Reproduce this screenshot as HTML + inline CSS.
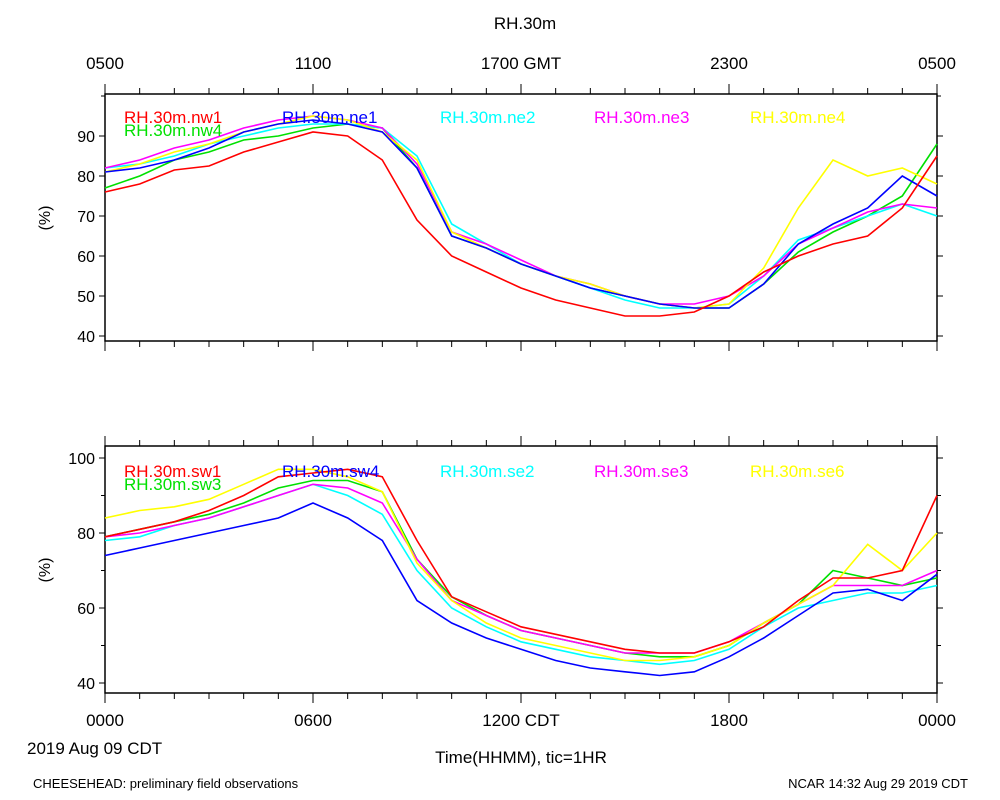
<!DOCTYPE html>
<html><head><meta charset="utf-8"><style>
body{margin:0;background:#fff}
svg{display:block;font-family:"Liberation Sans",sans-serif}
</style></head><body>
<svg id="c" width="1000" height="800"></svg>
<script>
const hours=[0,1,2,3,4,5,6,7,8,9,10,11,12,13,14,15,16,17,18,19,20,21,22,23,24];
const topXLabels=["0500","1100","1700 GMT","2300","0500"];
const botXLabels=["0000","0600","1200 CDT","1800","0000"];
const topYTicks=[40,50,60,70,80,90];
const botYTicks=[40,60,80,100];
const nw1=[76,78,81.5,82.5,86,88.5,91,90,84,69,60,56,52,49,47,45,45,46,50,56,60,63,65,72,85];
const nw4=[77,80,84,86,89,90,92,93,92,82,65,62,58,55,52,50,48,47,47,53,61,66,70,75,88];
const ne1=[81,82,84,87,91,93,94,93,91,82,65,62,58,55,52,50,48,47,47,53,63,68,72,80,75];
const ne2=[82,83,85,88,90,92,93,93,92,85,68,63,58,55,52,49,47,47,48,55,64,67,70,73,70];
const ne3=[82,84,87,89,92,94,95,94,92,83,66,63,59,55,53,50,48,48,50,55,63,67,71,73,72];
const ne4=[81,83,86,88,91,93,95,94,91,84,66,62,58,55,53,50,48,47,48,57,72,84,80,82,78];
const sw1=[79,81,83,86,90,95,96,97,95,78,63,59,55,53,51,49,48,48,51,55,62,68,68,70,90];
const sw3=[79,81,83,85,88,92,94,94,91,73,63,58,54,52,50,48,47,47,50,56,61,70,68,66,68];
const sw4=[74,76,78,80,82,84,88,84,78,62,56,52,49,46,44,43,42,43,47,52,58,64,65,62,69];
const se2=[78,79,82,84,87,90,93,90,85,70,60,55,51,49,47,46,45,46,49,55,60,62,64,64,66];
const se3=[79,80,82,84,87,90,93,92,88,73,62,58,54,52,50,48,48,48,51,56,61,66,66,66,70];
const se6=[84,86,87,89,93,97,97,95,91,72,62,56,52,50,48,46,46,47,50,56,61,66,77,70,80];

const svg=document.getElementById('c');const NS="http://www.w3.org/2000/svg";
function mk(t,a,p){const e=document.createElementNS(NS,t);for(const k in a)e.setAttribute(k,a[k]);(p||svg).appendChild(e);return e;}
const X0=105,X1=937;
function xs(h){return X0+(X1-X0)*h/24;}
function txt(x,y,s,size,anchor,fill,name){const e=mk('text',{x:x,y:y,'font-size':size,'text-anchor':anchor||'start',fill:fill||'#000'});e.textContent=s;

return e;}

function panel(cfg){
  const ys=v=>cfg.yTop+(cfg.vTop-v)*cfg.ppu;
  const g=mk('g',{});
  
  
  mk('rect',{x:X0,y:cfg.boxTop,width:X1-X0,height:cfg.boxBot-cfg.boxTop,fill:'none',stroke:'#000','stroke-width':1.5},g);
  for(let h=0;h<=24;h++){const x=xs(h);
    mk('line',{x1:x,x2:x,y1:cfg.boxTop,y2:cfg.boxTop-(h%6==0?10:6),stroke:'#000'},g);
    mk('line',{x1:x,x2:x,y1:cfg.boxBot,y2:cfg.boxBot+(h%6==0?10:6),stroke:'#000'},g);}
  for(let v=cfg.yMinTick;v<=cfg.yMaxTick;v+=cfg.minor){const y=ys(v);const maj=cfg.yTicks.includes(v);
    mk('line',{x1:X0,x2:X0-(maj?6:4),y1:y,y2:y,stroke:'#000'},g);
    mk('line',{x1:X1,x2:X1+(maj?6:4),y1:y,y2:y,stroke:'#000'},g);}
  cfg.yTicks.forEach(v=>txt(X0-10,ys(v)+6,String(v),16,'end','#000','y-tick-label'));
  txt(50,cfg.ylabY,'(%)',16,'middle','#000','y-axis-title').setAttribute('transform','rotate(-90 50 '+cfg.ylabY+')');
  cfg.series.forEach(s=>{
    const d=hours.map((h,i)=>(i?'L':'M')+xs(h).toFixed(1)+','+ys(s.v[i]).toFixed(1)).join('');
    const p=mk('path',{d:d,fill:'none',stroke:s.c,'stroke-width':1.6},g);
    
    
  });
  cfg.series.forEach(s=>txt(s.lx,s.ly,'RH.30m.'+s.n,17,'start',s.c,'legend-entry'));
}
panel({name:'top-panel',boxTop:94,boxBot:341,yTop:336,vTop:40,ppu:4,yTicks:topYTicks,yMinTick:40,yMaxTick:100,minor:10,ylabY:218,
 series:[{n:'nw4',v:nw4,c:'#00e000',lx:124,ly:136},{n:'ne2',v:ne2,c:'#00ffff',lx:440,ly:123},{n:'ne3',v:ne3,c:'#ff00ff',lx:594,ly:123},{n:'ne4',v:ne4,c:'#ffff00',lx:750,ly:123},{n:'ne1',v:ne1,c:'#0000ff',lx:282,ly:123},{n:'nw1',v:nw1,c:'#ff0000',lx:124,ly:123}]});
panel({name:'bottom-panel',boxTop:446,boxBot:693,yTop:683,vTop:40,ppu:3.75,yTicks:botYTicks,yMinTick:40,yMaxTick:100,minor:10,ylabY:570,
 series:[{n:'sw3',v:sw3,c:'#00e000',lx:124,ly:490},{n:'se2',v:se2,c:'#00ffff',lx:440,ly:477},{n:'se3',v:se3,c:'#ff00ff',lx:594,ly:477},{n:'se6',v:se6,c:'#ffff00',lx:750,ly:477},{n:'sw4',v:sw4,c:'#0000ff',lx:282,ly:477},{n:'sw1',v:sw1,c:'#ff0000',lx:124,ly:477}]});
topXLabels.forEach((s,i)=>txt(xs(i*6),69,s,17,'middle','#000','top-x-tick-label'));
botXLabels.forEach((s,i)=>txt(xs(i*6),726,s,17,'middle','#000','bottom-x-tick-label'));
txt(525,29,'RH.30m',17,'middle','#000','chart-title');
txt(27,754,'2019 Aug 09 CDT',17,'start','#000','date-label');
txt(521,763,'Time(HHMM), tic=1HR',17,'middle','#000','x-axis-title');
txt(33,788,'CHEESEHEAD: preliminary field observations',13,'start','#000','footer-left');
txt(968,788,'NCAR 14:32 Aug 29 2019 CDT',13,'end','#000','footer-right');
</script></body></html>
